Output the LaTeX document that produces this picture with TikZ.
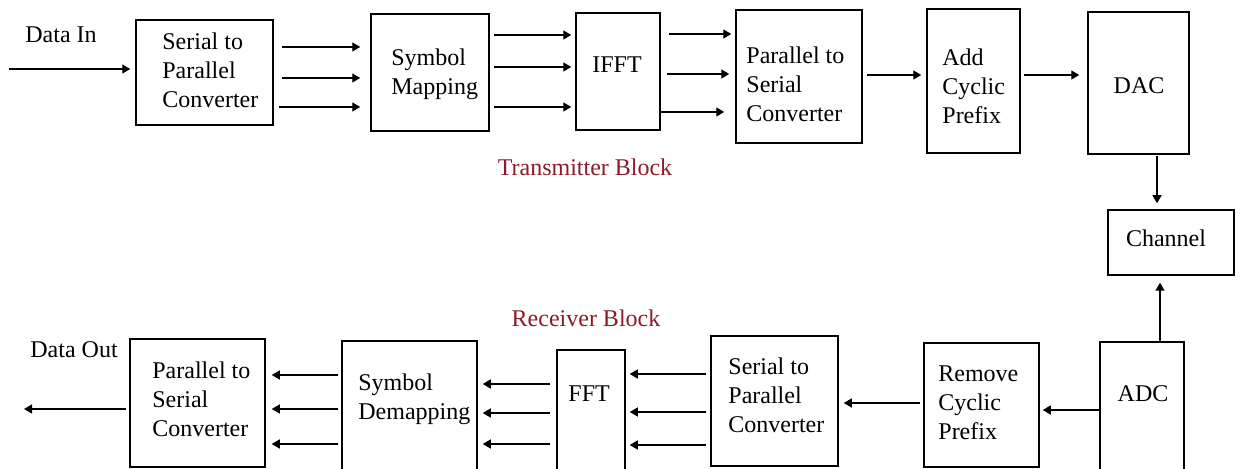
\documentclass[tikz,border=0pt]{standalone}
\usepackage{fontspec}
\setmainfont{Liberation Serif}
\usetikzlibrary{arrows.meta}
\definecolor{blkred}{RGB}{139,26,42}
\tikzset{
  blk/.style={draw=black, line width=0.75pt, rectangle, inner sep=0pt},
  lbl/.style={inner sep=0pt, align=left, anchor=base west, font=\fontsize{12}{14.5}\selectfont},
  clbl/.style={inner sep=0pt, anchor=base, font=\fontsize{12}{14.5}\selectfont},
  arr/.style={line width=0.7pt, -{Triangle[length=4pt,width=4.5pt]}},
}
\begin{document}
\begin{tikzpicture}[x=0.5pt,y=-0.5pt]
\clip (0,0) rectangle (1242,469);
\fill[white] (0,0) rectangle (1242,469);
% ---------- transmitter boxes ----------
\node[blk, minimum width=68.5pt, minimum height=52.5pt] (s2pA) at (204.5,72.5) {};
\node[blk, minimum width=59pt, minimum height=58.5pt] (smap) at (430,72.5) {};
\node[blk, minimum width=42pt, minimum height=58.5pt] (ifft) at (618,71.5) {};
\node[blk, minimum width=63pt, minimum height=66.5pt] (p2sA) at (799,76.5) {};
\node[blk, minimum width=46.5pt, minimum height=72pt] (acp) at (973.5,81) {};
\node[blk, minimum width=50.5pt, minimum height=71pt] (dac) at (1138.5,83) {};
\node[blk, minimum width=63pt, minimum height=32.5pt] (chan) at (1171,242.5) {};
% ---------- receiver boxes ----------
\node[blk, minimum width=42pt, minimum height=69pt] (adc) at (1142,411) {};
\node[blk, minimum width=57.5pt, minimum height=62pt] (rcp) at (981.5,405) {};
\node[blk, minimum width=63.5pt, minimum height=65pt] (s2pB) at (774.5,401) {};
\node[blk, minimum width=34pt, minimum height=65pt] (fft) at (591,415) {};
\node[blk, minimum width=67.5pt, minimum height=69.5pt] (sd) at (409.5,410.5) {};
\node[blk, minimum width=67.5pt, minimum height=64pt] (p2sB) at (197.5,403) {};
% ---------- texts (multi-line: anchored at the last line's baseline) ----------
\node[lbl] (tDin) at (25,43) {Data In};
\node[lbl] (tS2pA) at (162,108) {Serial to\\Parallel\\Converter};
\node[lbl] (tSmap) at (391,95) {Symbol\\Mapping};
\node[lbl] (tIfft) at (592,73) {IFFT};
\node[lbl] (tP2sA) at (746,122) {Parallel to\\Serial\\Converter};
\node[lbl] (tAcp) at (942,124) {Add\\Cyclic\\Prefix};
\node[clbl] (tDac) at (1139,94) {DAC};
\node[clbl] (tChan) at (1166,247) {Channel};
\node[clbl, text=blkred] (tTx) at (585,176) {Transmitter Block};
\node[clbl, text=blkred] (tRx) at (586,327) {Receiver Block};
\node[clbl] (tAdc) at (1143,402) {ADC};
\node[lbl] (tRcp) at (938,440) {Remove\\Cyclic\\Prefix};
\node[lbl] (tS2pB) at (728,433) {Serial to\\Parallel\\Converter};
\node[lbl] (tFft) at (568,402) {FFT};
\node[lbl] (tSd) at (358,420) {Symbol\\Demapping};
\node[lbl] (tP2sB) at (152,437) {Parallel to\\Serial\\Converter};
\node[lbl] (tDout) at (30,358) {Data Out};
% ---------- row / column coordinates ----------
\coordinate (din) at (9,69);
\coordinate (dout) at (24,409);
\coordinate (vx1) at (1157,0);
\coordinate (vx2) at (1160,0);
\foreach \n/\y in {a1/47,a2/78,a3/107,b1/35,b2/67,b3/107,c1/34,c2/74,c3/112,d/75,
                   e/410,f/403,g1/374,g2/412,g3/445,h1/384,h2/413,h3/444,i1/375,i2/409,i3/444}
  \coordinate (\n) at (0,\y);
% ---------- transmitter connectors ----------
\draw[arr] (din) -- ([xshift=-2.5pt]s2pA.west |- din);
\draw[arr] ([xshift=4pt]s2pA.east |- a1) -- ([xshift=-5pt]smap.west |- a1);
\draw[arr] ([xshift=4pt]s2pA.east |- a2) -- ([xshift=-5pt]smap.west |- a2);
\draw[arr] ([xshift=2.5pt]s2pA.east |- a3) -- ([xshift=-5pt]smap.west |- a3);
\draw[arr] ([xshift=2pt]smap.east |- b1) -- ([xshift=-2pt]ifft.west |- b1);
\draw[arr] ([xshift=2pt]smap.east |- b2) -- ([xshift=-2pt]ifft.west |- b2);
\draw[arr] ([xshift=2pt]smap.east |- b3) -- ([xshift=-2pt]ifft.west |- b3);
\draw[arr] ([xshift=4pt]ifft.east |- c1) -- ([xshift=-2pt]p2sA.west |- c1);
\draw[arr] ([xshift=3pt]ifft.east |- c2) -- ([xshift=-3pt]p2sA.west |- c2);
\draw[arr] (ifft.east |- c3) -- ([xshift=-5.5pt]p2sA.west |- c3);
\draw[arr] ([xshift=2pt]p2sA.east |- d) -- ([xshift=-2.5pt]acp.west |- d);
\draw[arr] ([xshift=1.5pt]acp.east |- d) -- ([xshift=-4pt]dac.west |- d);
\draw[arr] ([yshift=-0.5pt]vx1 |- dac.south) -- ([yshift=3pt]vx1 |- chan.north);
% ---------- receiver connectors ----------
\draw[arr] (vx2 |- adc.north) -- ([yshift=-3.5pt]vx2 |- chan.south);
\draw[arr] (adc.west |- e) -- ([xshift=1.5pt]rcp.east |- e);
\draw[arr] ([xshift=-1.5pt]rcp.west |- f) -- ([xshift=2.5pt]s2pB.east |- f);
\draw[arr] ([xshift=-2pt]s2pB.west |- g1) -- ([xshift=2pt]fft.east |- g1);
\draw[arr] ([xshift=-2pt]s2pB.west |- g2) -- ([xshift=2pt]fft.east |- g2);
\draw[arr] ([xshift=-2pt]s2pB.west |- g3) -- ([xshift=2pt]fft.east |- g3);
\draw[arr] ([xshift=-3pt]fft.west |- h1) -- ([xshift=2.5pt]sd.east |- h1);
\draw[arr] ([xshift=-3pt]fft.west |- h2) -- ([xshift=2.5pt]sd.east |- h2);
\draw[arr] ([xshift=-3pt]fft.west |- h3) -- ([xshift=2.5pt]sd.east |- h3);
\draw[arr] ([xshift=-1.5pt]sd.west |- i1) -- ([xshift=3pt]p2sB.east |- i1);
\draw[arr] ([xshift=-1.5pt]sd.west |- i2) -- ([xshift=3pt]p2sB.east |- i2);
\draw[arr] ([xshift=-1.5pt]sd.west |- i3) -- ([xshift=3pt]p2sB.east |- i3);
\draw[arr] ([xshift=-1.5pt]p2sB.west |- dout) -- (dout);
\end{tikzpicture}
\end{document}
